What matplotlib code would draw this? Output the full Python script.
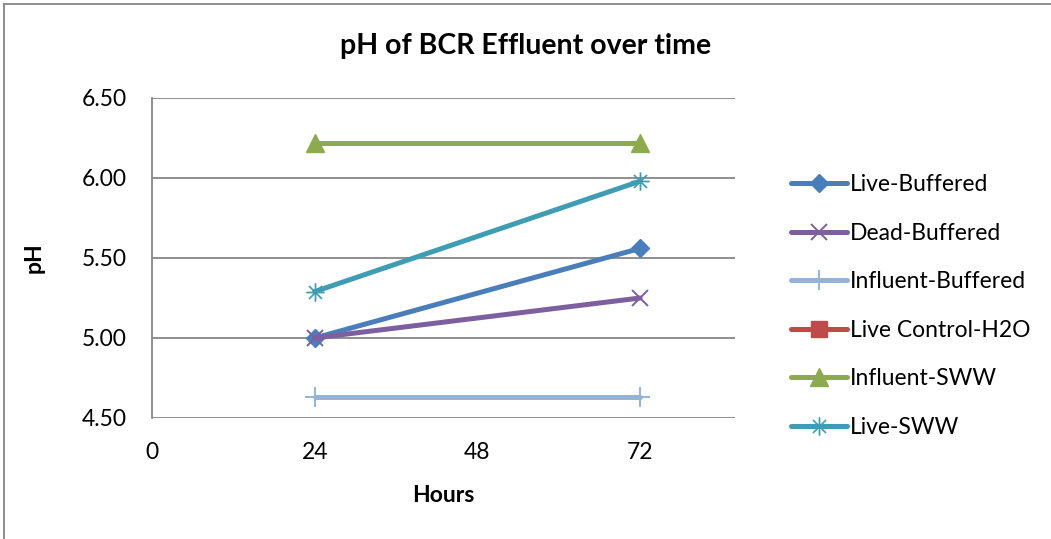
import matplotlib
matplotlib.use("Agg")
import matplotlib.pyplot as plt
import numpy as np

plt.rcParams['font.family'] = ['Lato', 'DejaVu Sans']

hours = [24, 72]
series_names = ["Live-Buffered", "Dead-Buffered", "Influent-Buffered",
                "Live Control-H2O", "Influent-SWW", "Live-SWW"]
live_buffered = [5.00, 5.56]
dead_buffered = [5.00, 5.25]
influent_buffered = [4.63, 4.63]
live_control_h2o = [np.nan, np.nan]
influent_sww = [6.22, 6.22]
live_sww = [5.29, 5.98]

values = [live_buffered, dead_buffered, influent_buffered,
          live_control_h2o, influent_sww, live_sww]
colors = ["#4A7EBB", "#7D5FA0", "#95B3D7", "#BE4B48", "#8EAA4E", "#3F9DB3"]
markers = ["D", "x", "+", "s", "^", "$\u2733$"]
msizes = [9, 11, 14, 11, 13, 13]

FS = 16.5

fig = plt.figure(figsize=(10.51, 5.39), dpi=100)
ax = fig.add_axes([152/1051, 1-418/539, (735-152)/1051, (418-98)/539])

for name, vals, c, m, ms in zip(series_names, values, colors, markers, msizes):
    kw = dict(color=c, lw=3.6, marker=m, markersize=ms, label=name,
              solid_capstyle='round')
    if m in ("x", "+"):
        kw.update(markeredgewidth=1.4)
    elif m.startswith("$"):
        kw.update(markeredgewidth=0.3)
    else:
        kw.update(markeredgecolor=c)
    ax.plot(hours, vals, **kw)

ax.set_xlim(0, 86)
ax.set_ylim(4.5, 6.5)
ax.set_xticks([0, 24, 48, 72])
ax.set_yticks([4.5, 5.0, 5.5, 6.0, 6.5])
ax.set_yticklabels([f"{v:.2f}" for v in [4.5, 5.0, 5.5, 6.0, 6.5]])
ax.tick_params(axis='both', length=0, labelsize=FS, colors='black')
ax.tick_params(axis='x', pad=17)
ax.tick_params(axis='y', pad=18)
ax.grid(axis='y', color='#868686', lw=1.3)
ax.set_axisbelow(True)
for s in ['top', 'right', 'bottom']:
    ax.spines[s].set_visible(False)
ax.spines['left'].set_color('#868686')
ax.spines['left'].set_linewidth(1.3)

ax.set_xlabel("Hours", fontsize=FS, fontweight='bold', labelpad=16)
ax.set_ylabel("pH", fontsize=FS, fontweight='bold', labelpad=27)
fig.text(0.5, 1-46/539, "pH of BCR Effluent over time", ha='center',
         va='center', fontsize=20.5, fontweight='bold')

leg = ax.legend(loc='upper left', bbox_to_anchor=(782/1051, 1-165/539),
                bbox_transform=fig.transFigure, frameon=False,
                fontsize=FS, handlelength=2.45, handletextpad=0.1,
                labelspacing=1.2, borderaxespad=0)

# chart frame
fig.add_artist(plt.Line2D([4/1051, 4/1051], [0, 1-4/539], color='#868686', lw=1.3))
fig.add_artist(plt.Line2D([4/1051, 1], [1-4/539, 1-4/539], color='#868686', lw=1.3))

fig.savefig("out.png", dpi=100)
